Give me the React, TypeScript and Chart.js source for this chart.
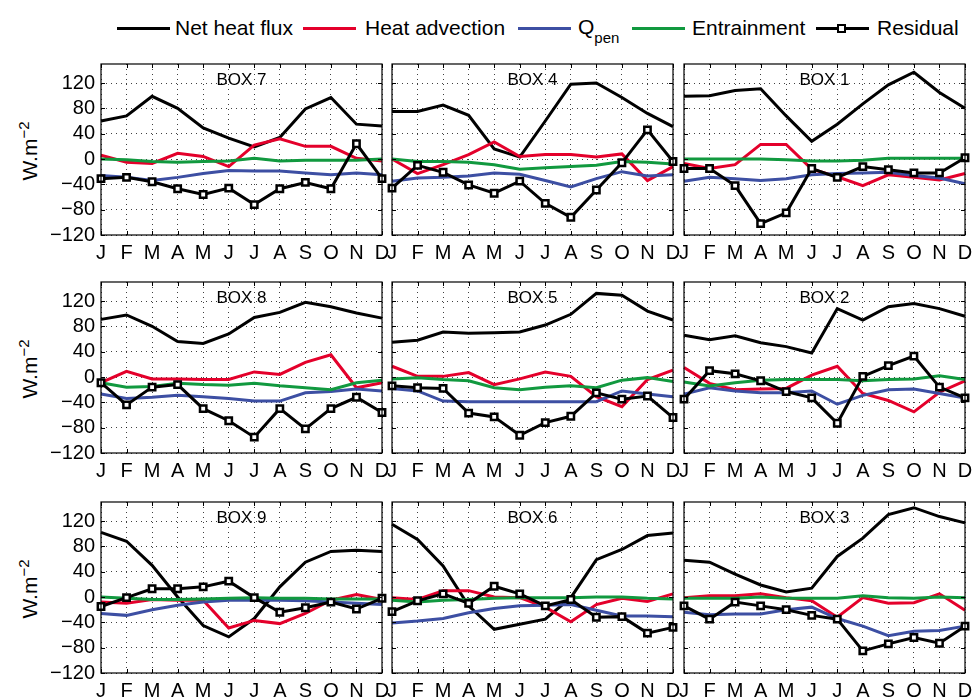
import React, { useEffect, useRef } from 'react';
import { Chart, registerables } from 'chart.js';
Chart.register(...registerables);

const FONT = "'Liberation Sans', Arial, Helvetica, sans-serif";

const months = ['J', 'F', 'M', 'A', 'M', 'J', 'J', 'A', 'S', 'O', 'N', 'D'];
const yTicks = [-120, -80, -40, 0, 40, 80, 120];
const yMin = -120;
const yMax = 150;

const seriesNames = ['Net heat flux', 'Heat advection', 'Qpen', 'Entrainment', 'Residual'];
const seriesColors = ['#000000', '#e4002b', '#3d4fa3', '#11993f', '#000000'];

// BOX 7
const net7 = [60, 68, 99, 80, 49, 33, 19, 34, 79, 97, 55, 52];
const adv7 = [6, -5, -7, 9, 4, -12, 22, 32, 20, 20, 1, -3];
const qpen7 = [-26, -29, -34, -29, -23, -18, -19, -19, -22, -25, -22, -25];
const entr7 = [0, -1, -4, -5, -4, -3, 1, -3, -2, -2, -2, 0];
const res7 = [-31, -29, -36, -47, -56, -46, -72, -47, -37, -47, 24, -31];
// BOX 4
const net4 = [75, 75, 85, 69, 16, 3, 60, 118, 120, 97, 72, 51];
const adv4 = [0, -23, -9, 7, 27, 4, 7, 7, 3, 8, -34, -12];
const qpen4 = [-35, -30, -29, -27, -22, -24, -34, -44, -31, -20, -27, -25];
const entr4 = [0, -4, -4, -5, -9, -16, -14, -12, -10, -4, -5, -8];
const res4 = [-46, -10, -21, -41, -54, -35, -70, -92, -49, -6, 46, -4];
// BOX 1
const net1 = [99, 100, 108, 111, 68, 28, 55, 87, 117, 137, 105, 80];
const adv1 = [-7, -15, -9, 23, 23, -16, -28, -42, -25, -29, -33, -23];
const qpen1 = [-35, -29, -31, -34, -31, -25, -23, -22, -21, -26, -30, -39];
const entr1 = [0, 0, 0, 0, -1, -3, -3, -2, 1, 1, 1, 1];
const res1 = [-15, -15, -42, -102, -85, -15, -29, -12, -17, -22, -22, 2];
// BOX 8
const net8 = [91, 98, 80, 56, 53, 68, 94, 102, 118, 111, 101, 93];
const adv8 = [-9, 9, -3, -3, -4, -4, 8, 4, 23, 35, -17, -9];
const qpen8 = [-27, -34, -32, -29, -31, -34, -38, -38, -25, -23, -19, -22];
const entr8 = [-9, -16, -15, -10, -12, -13, -10, -14, -17, -20, -9, -5];
const res8 = [-9, -44, -16, -12, -50, -69, -95, -50, -82, -50, -32, -56];
// BOX 5
const net5 = [55, 58, 71, 69, 70, 71, 82, 99, 132, 129, 104, 90];
const adv5 = [17, 1, 1, 7, -12, -3, 8, 1, -31, -47, -4, 11];
const qpen5 = [-18, -22, -38, -39, -39, -39, -39, -39, -39, -22, -27, -31];
const entr5 = [-3, -1, -4, -6, -17, -20, -16, -14, -17, -5, -1, -7];
const res5 = [-14, -17, -18, -57, -63, -92, -72, -62, -25, -35, -30, -64];
// BOX 2
const net2 = [66, 59, 65, 54, 48, 38, 108, 90, 111, 116, 108, 96];
const adv2 = [15, -10, -20, -19, -18, 3, 17, -26, -37, -55, -24, -6];
const qpen2 = [-27, -17, -22, -25, -25, -22, -43, -29, -20, -19, -26, -33];
const entr2 = [-8, -14, -9, -5, -4, -4, -4, -6, -4, -3, 2, -4];
const res2 = [-35, 10, 5, -6, -23, -33, -73, 1, 18, 33, -16, -33];
// BOX 9
const net9 = [102, 88, 50, 0, -45, -63, -34, 16, 55, 72, 74, 72];
const adv9 = [-8, -10, -4, -5, -5, -49, -37, -42, -26, -5, 4, -4];
const qpen9 = [-26, -29, -20, -13, -8, -5, -5, -5, -6, -8, -10, -12];
const entr9 = [0, -2, -4, -4, -3, -2, -1, -2, -2, -3, -3, -3];
const res9 = [-15, -1, 13, 13, 16, 25, -1, -24, -17, -8, -19, -2];
// BOX 6
const net6 = [115, 91, 49, -14, -51, -43, -35, -1, 59, 75, 97, 101];
const adv6 = [-1, -4, 10, 10, 0, -1, -16, -39, -12, -2, -7, 5];
const qpen6 = [-41, -38, -34, -25, -18, -14, -13, -12, -21, -30, -30, -31];
const entr6 = [-5, -8, -5, -4, -2, -1, -1, -1, 0, 0, -2, -3];
const res6 = [-23, -6, 5, -10, 17, 5, -14, -4, -32, -31, -57, -48];
// BOX 3
const net3 = [58, 55, 36, 19, 8, 14, 64, 93, 130, 141, 127, 117];
const adv3 = [-1, 2, 2, 5, -1, -6, -32, -1, -10, -9, 5, -21];
const qpen3 = [-24, -28, -27, -27, -20, -16, -34, -46, -61, -54, -53, -46];
const entr3 = [-2, -2, -2, 0, -2, -2, -2, 2, -1, -2, 0, -1];
const res3 = [-14, -35, -8, -14, -20, -29, -35, -85, -74, -64, -73, -46];

const panels = [
  { title: 'BOX 7', data: [net7, adv7, qpen7, entr7, res7] },
  { title: 'BOX 4', data: [net4, adv4, qpen4, entr4, res4] },
  { title: 'BOX 1', data: [net1, adv1, qpen1, entr1, res1] },
  { title: 'BOX 8', data: [net8, adv8, qpen8, entr8, res8] },
  { title: 'BOX 5', data: [net5, adv5, qpen5, entr5, res5] },
  { title: 'BOX 2', data: [net2, adv2, qpen2, entr2, res2] },
  { title: 'BOX 9', data: [net9, adv9, qpen9, entr9, res9] },
  { title: 'BOX 6', data: [net6, adv6, qpen6, entr6, res6] },
  { title: 'BOX 3', data: [net3, adv3, qpen3, entr3, res3] },
];

const COL_X = [101, 392, 684];
const ROW_Y = [63, 281, 501];
const PLOT_W = 281;
const PLOT_H = 172;

// legend layout (line start x, text start x)
const LEGEND_LINE_X = [117, 303, 518, 632, 816];
const LEGEND_TEXT_X = [175, 365, 578, 692, 877];

function framePlugin(title: string) {
  return {
    id: 'frame',
    afterDraw(chart: any) {
      const { ctx, chartArea: a, scales } = chart;
      ctx.save();
      ctx.strokeStyle = '#000';
      ctx.lineWidth = 1.2;
      ctx.strokeRect(a.left, a.top, a.right - a.left, a.bottom - a.top);
      ctx.lineWidth = 1;
      ctx.beginPath();
      const xs = scales.x;
      xs.ticks.forEach((_: any, i: number) => {
        const px = Math.round(xs.getPixelForTick(i)) + 0.5;
        ctx.moveTo(px, a.bottom);
        ctx.lineTo(px, a.bottom - 4);
        ctx.moveTo(px, a.top);
        ctx.lineTo(px, a.top + 4);
      });
      const ys = scales.y;
      ys.ticks.forEach((_: any, i: number) => {
        const py = Math.round(ys.getPixelForTick(i)) + 0.5;
        ctx.moveTo(a.left, py);
        ctx.lineTo(a.left + 4, py);
        ctx.moveTo(a.right, py);
        ctx.lineTo(a.right - 4, py);
      });
      ctx.stroke();
      ctx.fillStyle = '#000';
      ctx.font = `17px ${FONT}`;
      ctx.textAlign = 'center';
      ctx.textBaseline = 'middle';
      ctx.fillText(title, (a.left + a.right) / 2, a.top + 16);
      ctx.restore();
    },
  };
}

function Panel({ p, col, row }: { p: { title: string; data: number[][] }; col: number; row: number }) {
  const ref = useRef<HTMLCanvasElement>(null);
  const L = col === 0 ? 100 : 20;
  const R = 20;
  const T = 6;
  const B = 40;
  const w = PLOT_W + L + R;
  const h = PLOT_H + T + B;
  useEffect(() => {
    const gridOpts = { color: 'rgba(0,0,0,0.75)', lineWidth: 1, drawTicks: false };
    const chart = new Chart(ref.current as HTMLCanvasElement, {
      type: 'line',
      data: {
        labels: months,
        datasets: p.data.map((d, i) => ({
          label: seriesNames[i],
          data: d,
          borderColor: seriesColors[i],
          backgroundColor: seriesColors[i],
          borderWidth: 3,
          tension: 0,
          clip: false as any,
          pointRadius: i === 4 ? 4.5 : 0,
          pointStyle: 'rect',
          pointBorderWidth: 2.5,
          pointBorderColor: '#000',
          pointBackgroundColor: '#fff',
          order: 5 - i,
        })),
      },
      options: {
        animation: false,
        responsive: false,
        maintainAspectRatio: false,
        events: [],
        layout: { padding: { left: 0, right: R, top: T, bottom: 0 } },
        plugins: { legend: { display: false }, tooltip: { enabled: false } },
        scales: {
          x: {
            type: 'category',
            offset: false,
            grid: gridOpts,
            border: { display: false, dash: [1, 4] },
            ticks: {
              autoSkip: false,
              maxRotation: 0,
              minRotation: 0,
              padding: 6,
              color: '#000',
              font: { family: FONT, size: 20 },
            },
            afterFit: (s: any) => {
              s.height = B;
              s.paddingLeft = 0;
              s.paddingRight = 0;
            },
          },
          y: {
            min: yMin,
            max: yMax,
            afterBuildTicks: (s: any) => {
              s.ticks = yTicks.map((v) => ({ value: v }));
            },
            grid: gridOpts,
            border: { display: false, dash: [1, 4] },
            ticks: {
              display: col === 0,
              padding: 6,
              color: '#000',
              font: { family: FONT, size: 20 },
              callback: (v: any) => String(v).replace('-', '\u2212'),
            },
            afterFit: (s: any) => {
              s.width = L;
              s.paddingTop = 0;
              s.paddingBottom = 0;
            },
          },
        },
      } as any,
      plugins: [framePlugin(p.title)],
    });
    return () => chart.destroy();
  }, []);
  return (
    <canvas
      ref={ref}
      width={w}
      height={h}
      style={{ position: 'absolute', left: COL_X[col] - L, top: ROW_Y[row] - T, width: w, height: h }}
    />
  );
}

function LegendLine({ color, marker, x }: { color: string; marker?: boolean; x: number }) {
  return (
    <span
      style={{ position: 'absolute', left: x, top: 27, width: 53, height: 3, background: color }}
    >
      {marker && (
        <span
          style={{
            position: 'absolute',
            left: 21,
            top: -3.5,
            width: 5,
            height: 5,
            background: '#fff',
            border: '2.5px solid #000',
          }}
        />
      )}
    </span>
  );
}

export default function App() {
  const legendLabels = [
    <span>Net heat flux</span>,
    <span>Heat advection</span>,
    <span>
      Q<span style={{ fontSize: 15, position: 'relative', top: 9 }}>pen</span>
    </span>,
    <span>Entrainment</span>,
    <span>Residual</span>,
  ];
  return (
    <div
      style={{
        position: 'absolute',
        left: 0,
        top: 0,
        width: 972,
        height: 698,
        background: '#fff',
        overflow: 'hidden',
        fontFamily: FONT,
        color: '#000',
      }}
    >
      {seriesNames.map((name, i) => (
        <React.Fragment key={name}>
          <LegendLine color={seriesColors[i]} marker={i === 4} x={LEGEND_LINE_X[i]} />
          <span
            style={{
              position: 'absolute',
              left: LEGEND_TEXT_X[i],
              top: 28,
              transform: 'translateY(-50%)',
              fontSize: 21,
              lineHeight: '24px',
              whiteSpace: 'nowrap',
            }}
          >
            {legendLabels[i]}
          </span>
        </React.Fragment>
      ))}
      {ROW_Y.map((y, r) => (
        <div
          key={'yt' + r}
          style={{
            position: 'absolute',
            left: 28,
            top: y + PLOT_H / 2 + 2,
            transform: 'translate(-50%, -50%) rotate(-90deg)',
            fontSize: 21,
            whiteSpace: 'nowrap',
          }}
        >
          W.m<sup style={{ fontSize: 15 }}>{'\u2212'}2</sup>
        </div>
      ))}
      {panels.map((p, i) => (
        <Panel key={p.title} p={p} col={i % 3} row={Math.floor(i / 3)} />
      ))}
    </div>
  );
}
